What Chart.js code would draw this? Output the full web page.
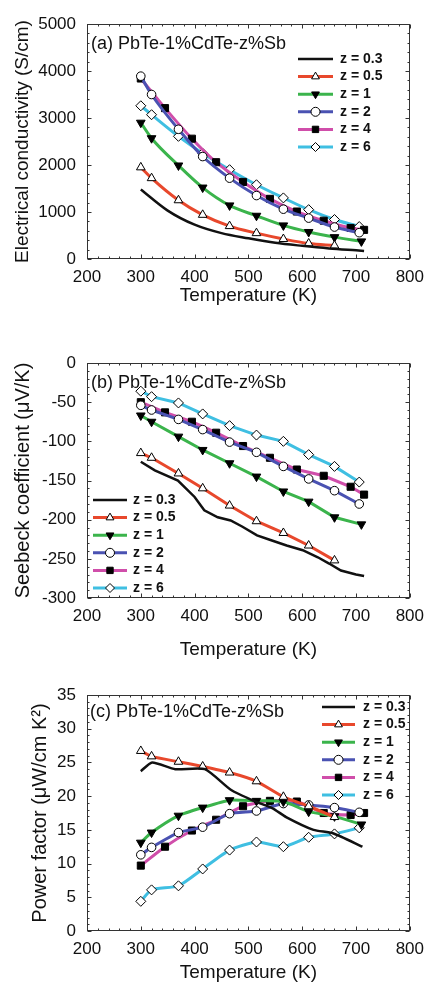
<!DOCTYPE html>
<html>
<head>
<meta charset="utf-8">
<script src="https://cdn.jsdelivr.net/npm/chart.js@4.4.1/dist/chart.umd.min.js"></script>
<style>
html,body{margin:0;padding:0;background:#fff;width:432px;height:991px;overflow:hidden}
.box{position:absolute;left:0;width:432px}
canvas{display:block}
</style>
</head>
<body>
<div class="box" id="boxA"><canvas id="ca"></canvas></div>
<div class="box" id="boxB"><canvas id="cb"></canvas></div>
<div class="box" id="boxC"><canvas id="cc"></canvas></div>
<script>
// ---------------- DATA ----------------
const X_TICKS = [200, 300, 400, 500, 600, 700, 800];
const Z_VALUES = ['0.3', '0.5', '1', '2', '4', '6'];

// measurement temperatures (K) for marker series
const TEMP_Z05 = [300, 320, 370, 415, 465, 515, 565, 612, 660];
const TEMP_Z1  = [300, 320, 370, 415, 465, 515, 565, 612, 660, 710];
const TEMP_Z2  = [300, 320, 370, 415, 465, 515, 565, 612, 660, 706];
const TEMP_Z4  = [300, 345, 395, 440, 490, 540, 590, 640, 690, 715];
const TEMP_Z6  = [300, 320, 370, 415, 465, 515, 565, 612, 660, 706];

// (a) electrical conductivity (S/cm)
const TEMP_Z03_A = [300, 350, 400, 450, 500, 550, 600, 650, 700, 715];
const SIGMA_Z03 = [1480, 1030, 730, 550, 440, 345, 280, 225, 184, 172];
const SIGMA_Z05 = [1950, 1720, 1250, 940, 700, 550, 425, 330, 285];
const SIGMA_Z1  = [2900, 2570, 1990, 1520, 1140, 920, 715, 575, 465, 375];
const SIGMA_Z2  = [3890, 3500, 2760, 2180, 1720, 1350, 1060, 870, 680, 560];
const SIGMA_Z4  = [3840, 3210, 2560, 2060, 1640, 1280, 1010, 815, 660, 620];
const SIGMA_Z6  = [3260, 3070, 2610, 2250, 1900, 1580, 1300, 1050, 840, 690];
const SIGMA_TICKS = [0, 1000, 2000, 3000, 4000, 5000];

// (b) Seebeck coefficient (uV/K)
const TEMP_Z03_B = [300, 326, 369, 400, 418, 443, 467, 489, 516, 541, 571, 601, 629, 650, 672, 700, 715];
const SEEBECK_Z03 = [-126, -137, -150, -171, -188, -197, -201, -209, -220, -226, -233, -239, -248, -256, -265, -270, -272];
const SEEBECK_Z05 = [-115, -121, -141, -160, -182, -202, -217, -233, -252];
const SEEBECK_Z1  = [-67, -75, -94, -111, -128, -145, -164, -177, -197, -206];
const SEEBECK_Z2  = [-54, -60, -72, -85, -101, -114, -132, -148, -163, -180];
const SEEBECK_Z4  = [-50, -63, -75, -89, -106, -121, -136, -144, -158, -168];
const SEEBECK_Z6  = [-36, -43, -51, -65, -80, -92, -100, -117, -132, -152];
const SEEBECK_TICKS = [-300, -250, -200, -150, -100, -50, 0];

// (c) power factor (uW/cm K^2)
const TEMP_Z03_C = [300, 321, 364, 419, 468, 510, 545, 570, 621, 657, 712];
const PF_Z03 = [23.7, 25.0, 24.0, 24.0, 20.9, 19.3, 18.2, 16.9, 15.0, 14.5, 12.5];
const PF_Z05 = [26.7, 25.9, 25.1, 24.4, 23.5, 22.2, 19.9, 18.5, 16.9];
const PF_Z1  = [13.1, 14.6, 17.1, 18.3, 19.4, 19.3, 19.2, 17.7, 17.0, 15.8];
const PF_Z2  = [11.3, 12.4, 14.6, 15.4, 17.4, 17.8, 18.9, 18.7, 18.3, 17.6];
const PF_Z4  = [9.7, 12.5, 14.9, 16.5, 18.5, 19.3, 19.2, 17.5, 17.2, 17.5];
const PF_Z6  = [4.4, 6.1, 6.7, 9.2, 12.0, 13.2, 12.5, 13.9, 14.4, 15.3];
const PF_TICKS = [0, 5, 10, 15, 20, 25, 30, 35];

// ---------------- STYLE ----------------
const FONT = "'Liberation Sans', Arial, Helvetica, sans-serif";
const STYLES = {
  '0.3': {color: '#111111', point: false, fill: '#000000', rot: 0, width: 2.5},
  '0.5': {color: '#e8482c', point: 'triangle', fill: '#ffffff', rot: 0, width: 3},
  '1':   {color: '#3bb44c', point: 'triangle', fill: '#000000', rot: 180, width: 3},
  '2':   {color: '#4a52b2', point: 'circle', fill: '#ffffff', rot: 0, width: 3},
  '4':   {color: '#d04eaa', point: 'rect', fill: '#000000', rot: 0, width: 3},
  '6':   {color: '#3fbfe2', point: 'rectRot', fill: '#ffffff', rot: 0, width: 3}
};

function makeDatasets(temps, vals, curve) {
  return Z_VALUES.map((z, k) => {
    const s = STYLES[z];
    return {
      label: 'z = ' + z,
      data: temps[k].map((t, i) => ({x: t, y: vals[k][i]})),
      borderColor: s.color,
      backgroundColor: s.color,
      borderWidth: s.width,
      pointStyle: s.point || 'circle',
      pointRadius: s.point ? (s.point === 'circle' ? 4.3 : 5) : 0,
      pointHoverRadius: 0,
      pointRotation: s.rot,
      pointBackgroundColor: s.fill,
      pointBorderColor: '#000000',
      pointBorderWidth: 1,
      fill: false,
      tension: curve.tension,
      cubicInterpolationMode: curve.mode
    };
  });
}

// frame + inward ticks
const framePlugin = {
  id: 'frame',
  afterDatasetsDraw(chart, args, o) {
    const {ctx, chartArea: a, scales: {x, y}} = chart;
    ctx.save();
    ctx.strokeStyle = '#333';
    ctx.lineWidth = 1;
    const L = Math.round(a.left) + 0.5, R = Math.round(a.right) - 0.5;
    const T = Math.round(a.top) + 0.5, B = Math.round(a.bottom) - 0.5;
    ctx.strokeRect(L, T, R - L, B - T);
    ctx.beginPath();
    for (let v = x.min; v <= x.max + 1e-9; v += 20) {
      const p = Math.round(x.getPixelForValue(v)) + 0.5;
      const len = (Math.abs(v % 100) < 1e-6) ? 4 : 2;
      ctx.moveTo(p, B); ctx.lineTo(p, B - len);
      ctx.moveTo(p, T); ctx.lineTo(p, T + len);
    }
    const minor = o.yMinor;
    for (let v = y.min; v <= y.max + 1e-9; v += minor) {
      const p = Math.round(y.getPixelForValue(v)) + 0.5;
      const major = Math.abs(Math.round(v / o.yMajor) * o.yMajor - v) < 1e-6;
      const len = major ? 4 : 2;
      ctx.moveTo(L, p); ctx.lineTo(L + len, p);
      ctx.moveTo(R, p); ctx.lineTo(R - len, p);
    }
    ctx.stroke();
    ctx.restore();
  }
};

const notePlugin = {
  id: 'note',
  afterDraw(chart, args, o) {
    const ctx = chart.ctx;
    ctx.save();
    ctx.fillStyle = '#111';
    ctx.font = '18px ' + FONT;
    ctx.textAlign = 'left';
    ctx.textBaseline = 'middle';
    ctx.fillText(o.text, o.x, o.y);
    ctx.restore();
  }
};

const legendPlugin = {
  id: 'zlegend',
  afterDraw(chart, args, o) {
    const ctx = chart.ctx;
    ctx.save();
    chart.data.datasets.forEach((ds, i) => {
      const yy = o.y0 + i * o.dy;
      ctx.strokeStyle = ds.borderColor;
      ctx.lineWidth = ds.borderWidth;
      ctx.beginPath();
      ctx.moveTo(o.x1, yy); ctx.lineTo(o.x2, yy);
      ctx.stroke();
      if (ds.pointRadius > 0) {
        ctx.fillStyle = ds.pointBackgroundColor;
        ctx.strokeStyle = '#000';
        ctx.lineWidth = 1;
        Chart.helpers.drawPoint(ctx, {pointStyle: ds.pointStyle, rotation: ds.pointRotation, radius: 4.5, borderWidth: 1}, (o.x1 + o.x2) / 2, yy);
      }
      ctx.fillStyle = '#111';
      ctx.font = 'bold 14px ' + FONT;
      ctx.textAlign = 'left';
      ctx.textBaseline = 'middle';
      ctx.fillText(ds.label, o.tx, yy);
    });
    ctx.restore();
  }
};

function makeChart(p) {
  const box = document.getElementById(p.box);
  box.style.top = p.canvasTop + 'px';
  box.style.height = p.canvasH + 'px';
  const cv = document.getElementById(p.canvas);
  cv.width = 432; cv.height = p.canvasH;
  cv.style.width = '432px'; cv.style.height = p.canvasH + 'px';
  const titleSize = p.titleSize;
  const xTitleLH = 19 * 1.2;
  const yTitleLH = titleSize * 1.2;
  const xAxisH = p.canvasH - (p.plotBottom - p.canvasTop);
  const xTitlePadBottom = p.canvasH - (p.titleY - p.canvasTop) - xTitleLH / 2;
  const tickFont = {family: FONT, size: 17};
  return new Chart(cv, {
    type: 'line',
    data: {datasets: p.datasets},
    options: {
      responsive: false,
      animation: false,
      events: [],
      layout: {padding: {top: p.plotTop - p.canvasTop, right: 17, left: 0, bottom: 0}},
      plugins: {
        legend: {display: false},
        tooltip: {enabled: false},
        frame: {yMinor: p.yStep / 5, yMajor: p.yStep},
        note: {text: p.note, x: p.noteX, y: p.noteY - p.canvasTop},
        zlegend: {x1: p.leg.x1, x2: p.leg.x2, tx: p.leg.tx, y0: p.leg.y0 - p.canvasTop, dy: p.leg.dy}
      },
      scales: {
        x: {
          type: 'linear',
          min: X_TICKS[0], max: X_TICKS[X_TICKS.length - 1],
          afterBuildTicks: s => { s.ticks = X_TICKS.map(v => ({value: v})); },
          afterFit: s => { s.height = xAxisH; },
          grid: {display: false, drawTicks: false, tickLength: 0},
          border: {display: false},
          ticks: {font: tickFont, color: '#111', padding: 8, maxRotation: 0, autoSkip: false, callback: v => String(v)},
          title: {display: true, text: 'Temperature (K)', color: '#111', font: {family: FONT, size: 19}, padding: {top: 0, bottom: xTitlePadBottom}}
        },
        y: {
          type: 'linear',
          min: p.yTicks[0], max: p.yTicks[p.yTicks.length - 1],
          afterBuildTicks: s => { s.ticks = p.yTicks.map(v => ({value: v})); },
          afterFit: s => { s.width = 87; },
          grid: {display: false, drawTicks: false, tickLength: 0},
          border: {display: false},
          ticks: {font: tickFont, color: '#111', padding: 11, autoSkip: false, callback: v => String(v)},
          title: {display: true, text: p.yTitle, color: '#111', font: {family: FONT, size: titleSize}, padding: {top: p.yTitleX - yTitleLH / 2, bottom: 0}}
        }
      }
    },
    plugins: [framePlugin, notePlugin, legendPlugin]
  });
}

const markerTemps = (t03) => [t03, TEMP_Z05, TEMP_Z1, TEMP_Z2, TEMP_Z4, TEMP_Z6];

makeChart({
  box: 'boxA', canvas: 'ca', canvasTop: 0, canvasH: 310, plotTop: 24, plotBottom: 259, titleY: 296,
  yTitle: 'Electrical conductivity (S/cm)', yTitleX: 23, titleSize: 19,
  yTicks: SIGMA_TICKS, yStep: 1000,
  note: '(a) PbTe-1%CdTe-z%Sb', noteX: 91, noteY: 44,
  leg: {x1: 298, x2: 333, tx: 340, y0: 59, dy: 17.6},
  datasets: makeDatasets(markerTemps(TEMP_Z03_A), [SIGMA_Z03, SIGMA_Z05, SIGMA_Z1, SIGMA_Z2, SIGMA_Z4, SIGMA_Z6], {tension: 0.4, mode: 'monotone'})
});

makeChart({
  box: 'boxB', canvas: 'cb', canvasTop: 310, canvasH: 352, plotTop: 363, plotBottom: 598, titleY: 650,
  yTitle: 'Seebeck coefficient (\u03BCV/K)', yTitleX: 23, titleSize: 20,
  yTicks: SEEBECK_TICKS, yStep: 50,
  note: '(b) PbTe-1%CdTe-z%Sb', noteX: 91, noteY: 383,
  leg: {x1: 93, x2: 127, tx: 133, y0: 500, dy: 17.6},
  datasets: makeDatasets(markerTemps(TEMP_Z03_B), [SEEBECK_Z03, SEEBECK_Z05, SEEBECK_Z1, SEEBECK_Z2, SEEBECK_Z4, SEEBECK_Z6], {tension: 0, mode: 'default'})
});

makeChart({
  box: 'boxC', canvas: 'cc', canvasTop: 662, canvasH: 329, plotTop: 695, plotBottom: 931, titleY: 973,
  yTitle: 'Power factor (\u03BCW/cm K\u00B2)', yTitleX: 40, titleSize: 20,
  yTicks: PF_TICKS, yStep: 5,
  note: '(c) PbTe-1%CdTe-z%Sb', noteX: 90, noteY: 712,
  leg: {x1: 322, x2: 355, tx: 363, y0: 707, dy: 17.6},
  datasets: makeDatasets(markerTemps(TEMP_Z03_C), [PF_Z03, PF_Z05, PF_Z1, PF_Z2, PF_Z4, PF_Z6], {tension: 0.2, mode: 'default'})
});
</script>
</body>
</html>
